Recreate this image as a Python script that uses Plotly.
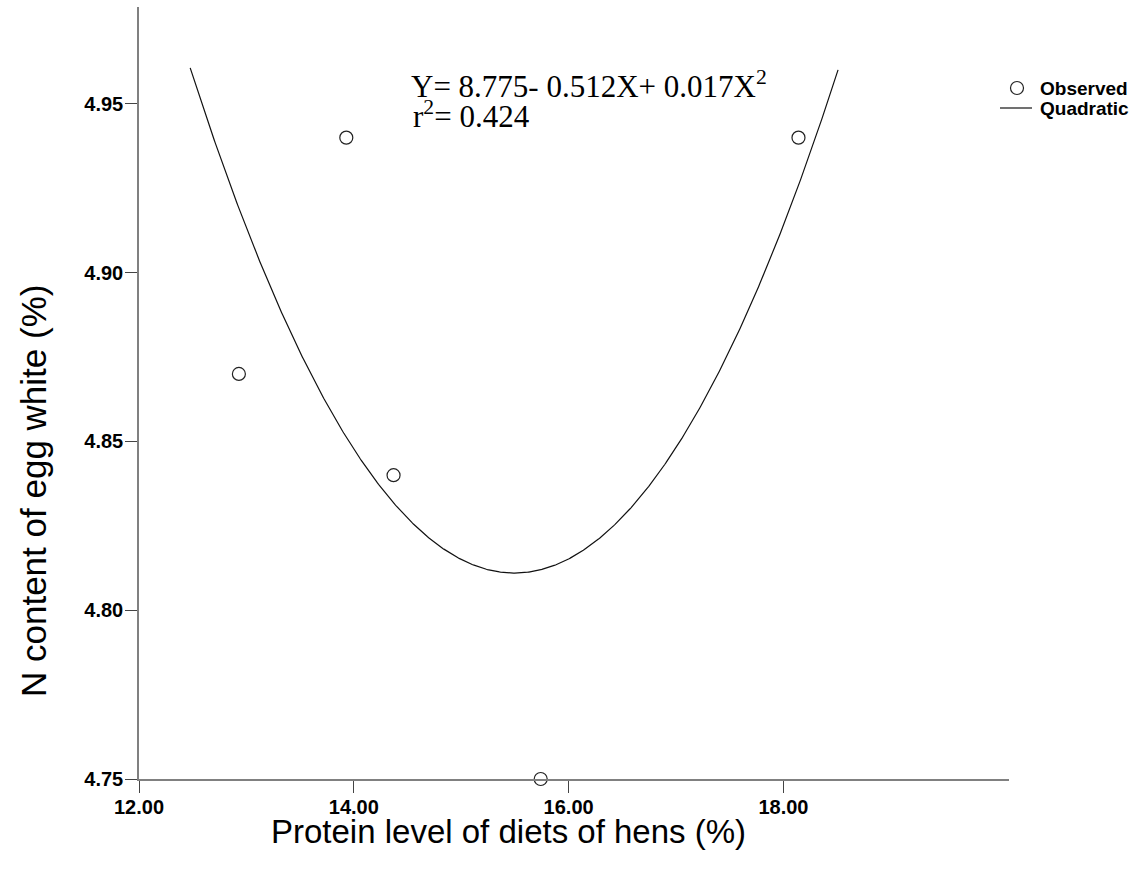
import numpy as np
import plotly.graph_objects as go

# Observed dietary protein levels (%) and egg-white N content (%)
protein_level = [12.93, 13.93, 14.37, 15.74, 18.14]
n_content = [4.87, 4.94, 4.84, 4.75, 4.94]

x_ticks = [12, 14, 16, 18]
y_ticks = [4.75, 4.80, 4.85, 4.90, 4.95]

equation_text = "Y= 8.775- 0.512X+ 0.017X<sup>2</sup>"
r2_text = "r<sup>2</sup>= 0.424"
x_title = "Protein level of diets of hens (%)"
y_title = "N content of egg white (%)"
legend_labels = ["Observed", "Quadratic"]

x_range = [12.0, 20.1]
y_range = [4.75, 4.9787]
curve_top = 4.961

# Plot-area geometry in pixels (used to place paper-referenced items)
W, H = 1135, 877
L, R, T, B = 139, 126, 7, 98
PW, PH = W - L - R, H - T - B


def px(x):
    return (x - L) / PW


def py(y):
    return 1 - (y - T) / PH


# Quadratic least-squares fit of the observed points
coef = np.polyfit(protein_level, n_content, 2)
xs = np.linspace(x_range[0], x_range[1], 800)
ys = np.polyval(coef, xs)
mask = ys <= curve_top
xs_fit = xs[mask]
ys_fit = ys[mask]

fig = go.Figure()
fig.add_trace(go.Scatter(
    x=protein_level, y=n_content, mode="markers", name=legend_labels[0],
    marker=dict(symbol="circle-open", size=13, color="#222",
                line=dict(width=1.2, color="#222")),
    cliponaxis=False,
))
fig.add_trace(go.Scatter(
    x=xs_fit, y=ys_fit, mode="lines", name=legend_labels[1],
    line=dict(color="#111", width=1.2),
))

tick_font = dict(family="Liberation Sans, Arial", size=20, color="black", weight="bold")
xtitle_font = dict(family="Liberation Sans, Arial", size=33, color="black")
ytitle_font = dict(family="Liberation Sans, Arial", size=35, color="black")
legend_font = dict(family="Liberation Sans, Arial", size=19, color="black", weight="bold")
eq_font = dict(family="Liberation Serif, Times New Roman", size=31, color="black")

annotations = [
    dict(text=equation_text, xref="paper", yref="paper",
         x=px(409), y=py(84), xanchor="left", yanchor="middle",
         showarrow=False, font=eq_font),
    dict(text=r2_text, xref="paper", yref="paper",
         x=px(411), y=py(114), xanchor="left", yanchor="middle",
         showarrow=False, font=eq_font),
    dict(text=x_title, xref="paper", yref="paper",
         x=px(508), y=py(831), xanchor="center", yanchor="middle",
         showarrow=False, font=xtitle_font),
    dict(text=y_title, xref="paper", yref="paper",
         x=px(33), y=py(491), xanchor="center", yanchor="middle",
         textangle=-90, showarrow=False, font=ytitle_font),
    dict(text=legend_labels[0], xref="paper", yref="paper",
         x=px(1038), y=py(88), xanchor="left", yanchor="middle",
         showarrow=False, font=legend_font),
    dict(text=legend_labels[1], xref="paper", yref="paper",
         x=px(1038), y=py(108), xanchor="left", yanchor="middle",
         showarrow=False, font=legend_font),
]

# Legend symbols drawn as pixel-sized shapes anchored in paper space
shapes = [
    dict(type="circle", xref="paper", yref="paper",
         xsizemode="pixel", ysizemode="pixel",
         xanchor=px(1017), yanchor=py(88),
         x0=-6.5, x1=6.5, y0=-6.5, y1=6.5,
         line=dict(color="#222", width=1.2)),
    dict(type="line", xref="paper", yref="paper",
         xsizemode="pixel", ysizemode="pixel",
         xanchor=px(1016), yanchor=py(108),
         x0=-16, x1=16, y0=0, y1=0,
         line=dict(color="#111", width=1.2)),
]

fig.update_layout(
    width=W, height=H,
    margin=dict(l=L, r=R, t=T, b=B),
    plot_bgcolor="white", paper_bgcolor="white",
    showlegend=False,
    xaxis=dict(
        range=x_range, tickvals=x_ticks, tickformat=".2f",
        showline=True, linecolor="#808080", linewidth=1.5,
        ticks="outside", ticklen=12, tickcolor="#444", tickwidth=1,
        ticklabelstandoff=-3,
        showgrid=False, zeroline=False, tickfont=tick_font,
    ),
    yaxis=dict(
        range=y_range, tickvals=y_ticks, tickformat=".2f",
        showline=True, linecolor="#808080", linewidth=1.5,
        ticks="outside", ticklen=12, tickcolor="#444", tickwidth=1,
        ticklabelstandoff=-2,
        showgrid=False, zeroline=False, tickfont=tick_font,
    ),
    annotations=annotations,
    shapes=shapes,
)

fig.write_html("out.html")
